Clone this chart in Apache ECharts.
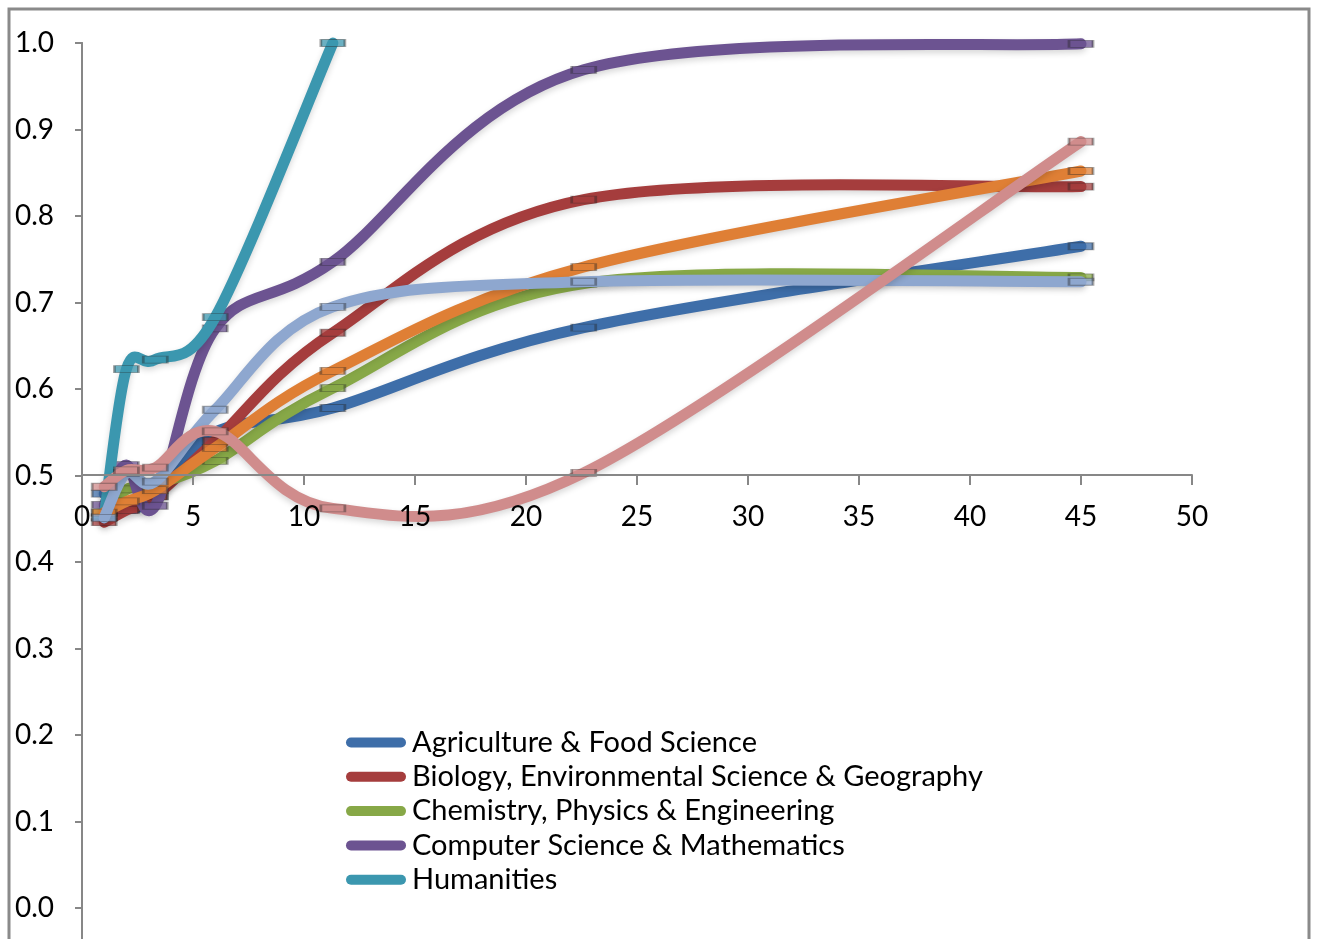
<!DOCTYPE html>
<html>
<head>
<meta charset="utf-8">
<script src="https://cdn.jsdelivr.net/npm/echarts@6/dist/echarts.min.js"></script>
<style>
html,body{margin:0;padding:0;background:#fff;}
#chart{width:1317px;height:939px;}
</style>
</head>
<body>
<div id="chart"></div>
<script>
// ---- data ----
const xValues = [1, 2, 3.3, 6, 11.3, 22.6, 45];
const seriesNames = [
  'Agriculture & Food Science',
  'Biology, Environmental Science & Geography',
  'Chemistry, Physics & Engineering',
  'Computer Science & Mathematics',
  'Humanities',
  'Series 6',
  'Series 7',
  'Series 8'
];
const agriculture = [0.479, 0.462, 0.476, 0.550, 0.578, 0.671, 0.765];
const biology     = [0.446, 0.460, 0.476, 0.540, 0.665, 0.819, 0.834];
const chemistry   = [0.457, 0.484, 0.490, 0.517, 0.601, 0.722, 0.729];
const compSci     = [0.466, 0.512, 0.465, 0.670, 0.747, 0.969, 0.999];
const humanities  = [0.452, 0.623, 0.634, 0.683, 1.000];
const series6     = [0.457, 0.470, 0.483, 0.532, 0.621, 0.741, 0.852];
const series7     = [0.451, 0.503, 0.493, 0.576, 0.695, 0.724, 0.724];
const series8     = [0.487, 0.506, 0.509, 0.551, 0.462, 0.503, 0.886];
const seriesValues = [agriculture, biology, chemistry, compSci, humanities, series6, series7, series8];
const colors = ['#3e6ea9', '#a53d3d', '#87a847', '#6c5391', '#3b97af', '#df7f35', '#8ea7cf', '#d08c8c'];
const legendShown = seriesNames.slice(0, 5);
const xTicks = {min: 0, max: 50, interval: 5};
const yTicks = {min: 0, max: 1.0, interval: 0.1};

const chart = echarts.init(document.getElementById('chart'), null, {renderer: 'canvas'});
const FONT = 'Lato';
const axisGray = '#878787';

// Excel-style smoothed curve (Catmull-Rom Bezier, tension 1/6) built from api.coord
function smoothPath(api, vals) {
  const pts = vals.map((v, i) => api.coord([xValues[i], v]));
  const n = pts.length;
  let d = 'M' + pts[0][0] + ',' + pts[0][1];
  for (let i = 0; i < n - 1; i++) {
    const p0 = pts[Math.max(i - 1, 0)], p1 = pts[i], p2 = pts[i + 1], p3 = pts[Math.min(i + 2, n - 1)];
    const c1x = p1[0] + (p2[0] - p0[0]) / 6, c1y = p1[1] + (p2[1] - p0[1]) / 6;
    const c2x = p2[0] - (p3[0] - p1[0]) / 6, c2y = p2[1] - (p3[1] - p1[1]) / 6;
    d += ' C' + c1x + ',' + c1y + ' ' + c2x + ',' + c2y + ' ' + p2[0] + ',' + p2[1];
  }
  return d;
}

const series = [];
seriesValues.forEach((vals, i) => {
  const pts = vals.map((v, j) => [xValues[j], v]);
  series.push({
    name: seriesNames[i],
    type: 'custom',
    xAxisIndex: 0,
    yAxisIndex: 0,
    data: pts,
    itemStyle: {color: colors[i]},
    silent: true,
    z: 2 + 2 * i,
    renderItem: (params, api) => {
      if (params.dataIndex !== 0) return null;
      return {
        type: 'path',
        shape: {pathData: smoothPath(api, vals)},
        style: {
          fill: 'none',
          stroke: colors[i],
          lineWidth: 11,
          lineCap: 'round',
          lineJoin: 'round',
          shadowColor: 'rgba(0,0,0,0.16)',
          shadowBlur: 6,
          shadowOffsetY: 3
        }
      };
    }
  });
  series.push({
    name: 'markers-' + i,
    type: 'scatter',
    xAxisIndex: 0,
    yAxisIndex: 0,
    data: pts,
    symbol: 'rect',
    symbolSize: [24, 7],
    itemStyle: {
      color: colors[i],
      opacity: 0.75,
      borderColor: 'rgba(40,40,40,0.55)',
      borderWidth: 1.5
    },
    silent: true,
    z: 3 + 2 * i
  });
});

const capsule = 'path://M5,0 L55,0 A5,5 0 0 1 55,10 L5,10 A5,5 0 0 1 5,0 Z';

chart.setOption({
  animation: false,
  backgroundColor: '#ffffff',
  graphic: [{
    type: 'rect',
    shape: {x: 9, y: 9, width: 1300, height: 1000},
    style: {fill: 'none', stroke: '#8a8a8a', lineWidth: 3},
    z: 0
  }],
  legend: {
    data: legendShown.map(n => ({name: n, icon: capsule})),
    orient: 'vertical',
    left: 341,
    top: 723,
    itemWidth: 62,
    itemHeight: 10,
    itemGap: 5.3,
    itemStyle: {borderWidth: 0},
    textStyle: {fontFamily: FONT, fontSize: 29, color: '#000'},
    selectedMode: false
  },
  grid: [
    {left: 82, top: 43, right: 125, bottom: 31, containLabel: false},
    {left: 82, top: 43, right: 125, height: 432, containLabel: false},
    {left: 82, top: 43, right: 125, bottom: 0, containLabel: false}
  ],
  xAxis: [
    {type: 'value', gridIndex: 0, min: xTicks.min, max: xTicks.max, interval: xTicks.interval, show: false},
    {
      type: 'value', gridIndex: 1, min: xTicks.min, max: xTicks.max, interval: xTicks.interval,
      position: 'bottom',
      z: 40,
      axisLine: {show: true, onZero: false, lineStyle: {color: axisGray, width: 2}},
      axisTick: {show: true, inside: false, length: 10, lineStyle: {color: axisGray, width: 2}},
      splitLine: {show: false},
      axisLabel: {fontFamily: FONT, fontSize: 28, color: '#000', margin: 28}
    },
    {type: 'value', gridIndex: 2, min: xTicks.min, max: xTicks.max, show: false}
  ],
  yAxis: [
    {
      type: 'value', gridIndex: 0, min: yTicks.min, max: yTicks.max, interval: yTicks.interval,
      z: 40,
      axisLine: {show: true, onZero: false, lineStyle: {color: axisGray, width: 2}},
      axisTick: {show: true, inside: false, length: 7, lineStyle: {color: axisGray, width: 2}},
      splitLine: {show: false},
      axisLabel: {
        fontFamily: FONT, fontSize: 28, color: '#000', margin: 28,
        formatter: v => v.toFixed(1)
      }
    },
    {type: 'value', gridIndex: 1, min: 0.5, max: 1.0, show: false},
    {
      type: 'value', gridIndex: 2, min: 0, max: 1,
      axisLine: {show: true, onZero: false, lineStyle: {color: axisGray, width: 2}},
      axisTick: {show: false}, axisLabel: {show: false}, splitLine: {show: false}
    }
  ],
  series: series
});
</script>
</body>
</html>
